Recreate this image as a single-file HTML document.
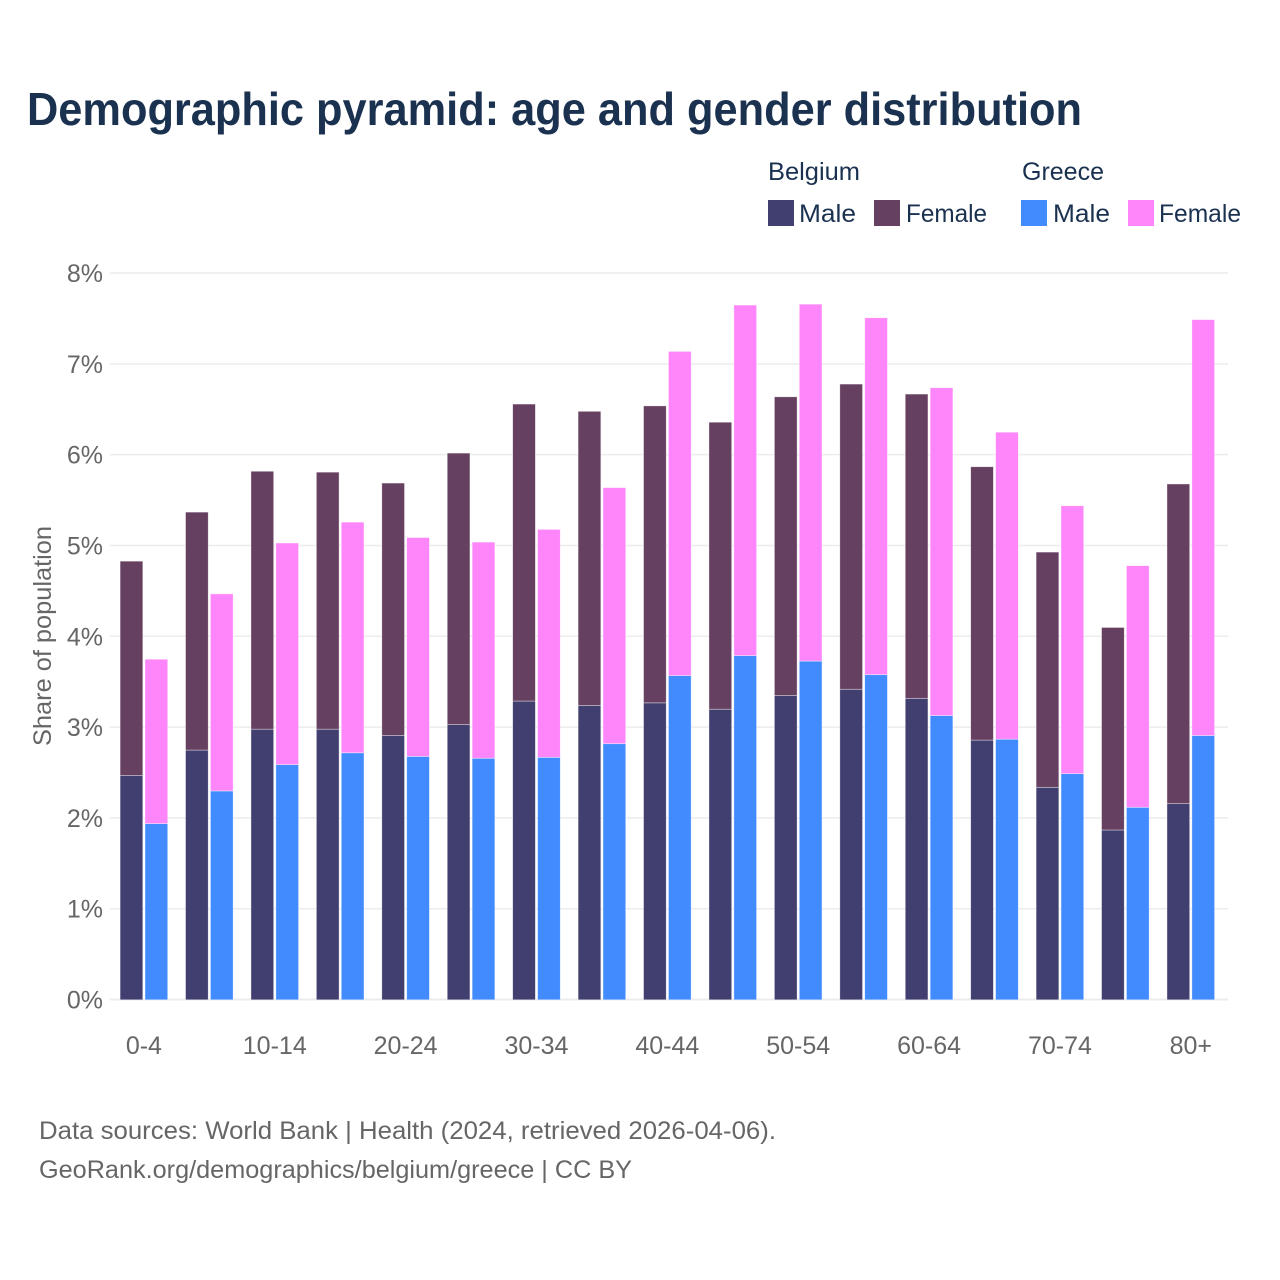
<!DOCTYPE html>
<html lang="en">
<head>
<meta charset="utf-8">
<title>Demographic pyramid: age and gender distribution</title>
<style>
html,body{margin:0;padding:0;background:#fff;width:1280px;height:1280px;overflow:hidden}
svg{display:block}
text{font-family:"Liberation Sans",sans-serif}
.legend{font-size:25px;fill:#1a3150}
.muted{font-size:25px;fill:#666}
</style>
</head>
<body>
<svg id="chart" width="1280" height="1280" viewBox="0 0 1280 1280" xmlns="http://www.w3.org/2000/svg">
<rect width="1280" height="1280" fill="#fff"/>
<text x="27" y="125" font-size="46" font-weight="700" fill="#1a3150" textLength="1055" lengthAdjust="spacingAndGlyphs">Demographic pyramid: age and gender distribution</text>
<g>
<text class="legend" x="768" y="180" textLength="92" lengthAdjust="spacingAndGlyphs">Belgium</text>
<rect x="768" y="200" width="26" height="26" fill="#413f6f"/>
<text class="legend" x="799" y="222" textLength="57" lengthAdjust="spacingAndGlyphs">Male</text>
<rect x="874" y="200" width="26" height="26" fill="#664060"/>
<text class="legend" x="906" y="222" textLength="81" lengthAdjust="spacingAndGlyphs">Female</text>
<text class="legend" x="1022" y="180" textLength="82" lengthAdjust="spacingAndGlyphs">Greece</text>
<rect x="1021" y="200" width="26" height="26" fill="#418bff"/>
<text class="legend" x="1053" y="222" textLength="57" lengthAdjust="spacingAndGlyphs">Male</text>
<rect x="1128" y="200" width="26" height="26" fill="#ff85fb"/>
<text class="legend" x="1159" y="222" textLength="82" lengthAdjust="spacingAndGlyphs">Female</text>
</g>
<text class="muted" transform="translate(51,746) rotate(-90)" x="0" y="0" textLength="220" lengthAdjust="spacingAndGlyphs">Share of population</text>
<g id="grid"></g>
<g id="yticks"></g>
<g id="bars"></g>
<g id="xticks"></g>
<text class="muted" x="39" y="1139" textLength="737" lengthAdjust="spacingAndGlyphs">Data sources: World Bank | Health (2024, retrieved 2026-04-06).</text>
<text class="muted" x="39" y="1178" textLength="593" lengthAdjust="spacingAndGlyphs">GeoRank.org/demographics/belgium/greece | CC BY</text>
</svg>
<script>
const categories = ['0-4','5-9','10-14','15-19','20-24','25-29','30-34','35-39','40-44','45-49','50-54','55-59','60-64','65-69','70-74','75-79','80+'];
const belgiumMale = [2.47,2.75,2.98,2.98,2.91,3.03,3.29,3.24,3.27,3.20,3.35,3.42,3.32,2.86,2.34,1.87,2.16];
const belgiumFemale = [2.36,2.62,2.84,2.83,2.78,2.99,3.27,3.24,3.27,3.16,3.29,3.36,3.35,3.01,2.59,2.23,3.52];
const greeceMale = [1.94,2.30,2.59,2.72,2.68,2.66,2.67,2.82,3.57,3.79,3.73,3.58,3.13,2.87,2.49,2.12,2.91];
const greeceFemale = [1.81,2.17,2.44,2.54,2.41,2.38,2.51,2.82,3.57,3.86,3.93,3.93,3.61,3.38,2.95,2.66,4.58];
const yTickValues = [0,1,2,3,4,5,6,7,8];
const xTickLabels = ['0-4','10-14','20-24','30-34','40-44','50-54','60-64','70-74','80+'];

const NS = 'http://www.w3.org/2000/svg';
const plotLeft = 110, plotRight = 1228, y0 = 999.5, y8 = 273;
const firstBarX = 120.1, step = 65.43, barW = 22.7, barGap = 24.9;
function yScale(v){ return y0 - (v / 8) * (y0 - y8) + 0.3; }
function xScale(i){ return firstBarX + i * step; }
function make(tag, attrs, parent){
  const el = document.createElementNS(NS, tag);
  for (const k in attrs) el.setAttribute(k, attrs[k]);
  parent.appendChild(el);
  return el;
}
const grid = document.getElementById('grid');
const yticks = document.getElementById('yticks');
const bars = document.getElementById('bars');
const xticks = document.getElementById('xticks');

yTickValues.forEach(function(v){
  const gy = yScale(v) - 0.3;
  const line = make('line', {x1: plotLeft, x2: plotRight, y1: gy, y2: gy, stroke: '#ececec', 'stroke-width': v === 0 ? 2 : 1.5}, grid);
  
  
  const t = make('text', {x: 103, y: gy + 9, 'text-anchor': 'end', 'font-size': 25, fill: '#666'}, yticks);
  
  
  t.textContent = v + '%';
});

function drawBar(i, offset, bottom, value, color){
  const top = yScale(bottom + value);
  const r = make('rect', {x: xScale(i) + offset, y: top, width: barW, height: yScale(bottom) - top, fill: color, stroke: '#fff', 'stroke-opacity': 0.55, 'stroke-width': 0.7}, bars);
  
  
}
categories.forEach(function(c, i){
  drawBar(i, 0, 0, belgiumMale[i], '#413f6f');
  drawBar(i, 0, belgiumMale[i], belgiumFemale[i], '#664060');
  drawBar(i, barGap, 0, greeceMale[i], '#418bff');
  drawBar(i, barGap, greeceMale[i], greeceFemale[i], '#ff85fb');
  if (xTickLabels.indexOf(c) >= 0) {
    const t = make('text', {x: xScale(i) + 23.8, y: 1054, 'text-anchor': 'middle', 'font-size': 25, fill: '#666'}, xticks);
    
    
    t.textContent = c;
  }
});
</script>
</body>
</html>
